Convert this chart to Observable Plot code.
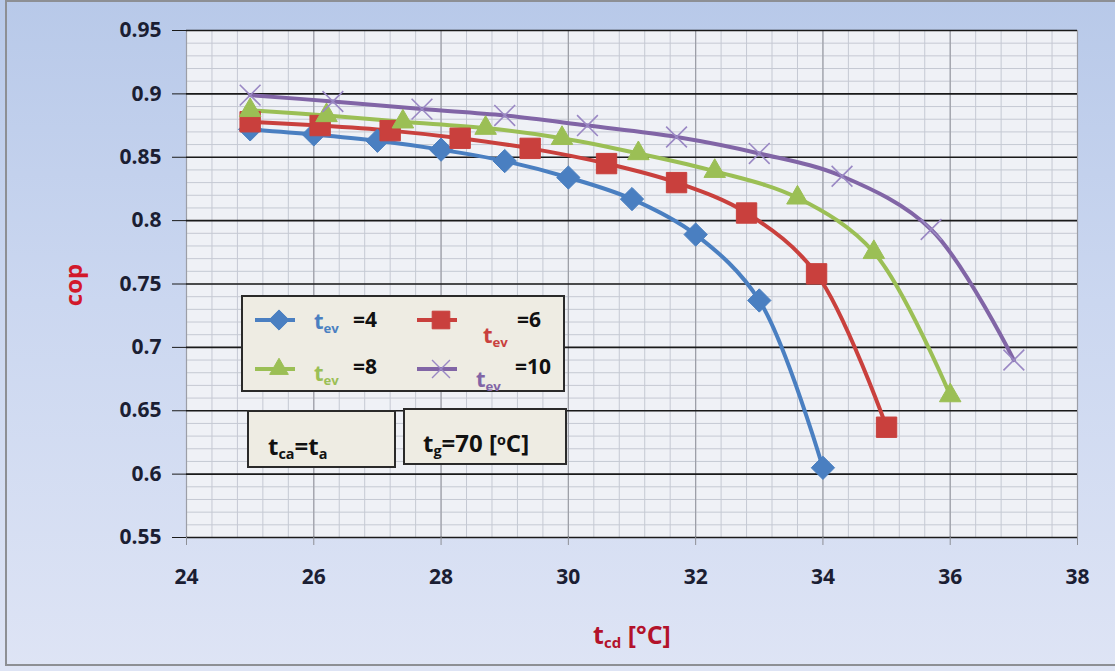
<!DOCTYPE html>
<html>
<head>
<meta charset="utf-8">
<script src="https://cdn.jsdelivr.net/npm/d3@7"></script>
<script src="https://cdn.jsdelivr.net/npm/@observablehq/plot@0.6"></script>
<style>
  html, body { margin: 0; padding: 0; background: #ffffff; }
  #chart {
    position: relative; width: 1115px; height: 671px; overflow: hidden;
    background: linear-gradient(180deg, #b8c9e9 0%, #cbd7f0 45%, #dee4f5 100%);
    font-family: "Open Sans", "DejaVu Sans", sans-serif;
  }
  #chart svg { position: absolute; left: 0; top: 0; }
  .frame-border {
    position: absolute; left: 5px; top: 0; width: 1112px; height: 666px;
    border: 2px solid #8d8f94; box-sizing: border-box; pointer-events: none;
  }
  .box {
    position: absolute; background: #eeece3; border: 2px solid #2a2a2a;
    box-sizing: border-box;
  }
  .lbl { position: absolute; font-weight: 700; white-space: nowrap; line-height: 1; }
  .lbl sub { font-size: 0.6em; vertical-align: -0.3em; }
</style>
</head>
<body>
<div id="chart"></div>
<script>
// Condenser temperature t_cd [°C] and coefficient of performance for each evaporator temperature
const tcd4 = [25, 26, 27, 28, 29, 30, 31, 32, 33, 34];
const cop4 = [0.872, 0.868, 0.863, 0.856, 0.847, 0.834, 0.817, 0.789, 0.737, 0.605];

const tcd6 = [25, 26.1, 27.2, 28.3, 29.4, 30.6, 31.7, 32.8, 33.9, 35];
const cop6 = [0.878, 0.875, 0.871, 0.865, 0.857, 0.845, 0.830, 0.806, 0.758, 0.637];

const tcd8 = [25, 26.2, 27.4, 28.7, 29.9, 31.1, 32.3, 33.6, 34.8, 36];
const cop8 = [0.887, 0.883, 0.878, 0.873, 0.865, 0.853, 0.839, 0.818, 0.775, 0.662];

const tcd10 = [25, 26.3, 27.7, 29, 30.3, 31.7, 33, 34.3, 35.7, 37];
const cop10 = [0.899, 0.894, 0.888, 0.883, 0.875, 0.866, 0.853, 0.835, 0.793, 0.690];

const tevValues = [4, 6, 8, 10];

// Axis ticks
const xTicks = [24, 26, 28, 30, 32, 34, 36, 38];
const yTicks = [0.55, 0.6, 0.65, 0.7, 0.75, 0.8, 0.85, 0.9, 0.95];
const yTickLabels = ["0.55", "0.6", "0.65", "0.7", "0.75", "0.8", "0.85", "0.9", "0.95"];

// Series styling
const seriesStyle = [
  {tev: 4,  color: "#4a7fc1", symbol: "diamond2", r: 10.5, fill: true},
  {tev: 6,  color: "#c9403d", symbol: "square",   r: 11.5, fill: true},
  {tev: 8,  color: "#9bbf55", symbol: "triangle", r: 8, fill: true},
  {tev: 10, color: "#8165a6", symbol: "times",    r: 9.5, fill: false}
];

const seriesData = [
  [tcd4, cop4], [tcd6, cop6], [tcd8, cop8], [tcd10, cop10]
].map(([xs, ys], i) => xs.map((x, j) => ({tev: tevValues[i], tcd: x, cop: ys[j]})));

// Minor gridlines: 0.4 on x, 0.01 on y
const minorX = d3.range(0, 36).map(i => 24 + i * 0.4).filter(v => v < 38);
const minorY = d3.range(0, 41).map(i => +(0.55 + i * 0.01).toFixed(2));

const marks = [
  Plot.frame({fill: "#eff1f6", stroke: null}),
  Plot.ruleX(minorX, {stroke: "#c5c9d3", strokeWidth: 1}),
  Plot.ruleY(minorY, {stroke: "#c5c9d3", strokeWidth: 1}),
  Plot.ruleX(xTicks, {stroke: "#9c9ea6", strokeWidth: 1.2}),
  Plot.ruleY(yTicks, {stroke: "#1a1a1a", strokeWidth: 1.6}),
  Plot.axisY(yTicks, {
    anchor: "left", label: null, tickSize: 14, tickPadding: 11,
    tickFormat: d => yTickLabels[yTicks.indexOf(d)],
    stroke: "#1a1a1a", fill: "#1b1e33", fontSize: 21, fontWeight: 700
  }),
  Plot.axisX(xTicks, {
    anchor: "bottom", label: null, tickSize: 8, tickPadding: 24,
    tickFormat: d => String(d),
    stroke: "#8d8f96", fill: "#1b1e33", fontSize: 21, fontWeight: 700
  })
];

seriesStyle.forEach((s, i) => {
  marks.push(Plot.line(seriesData[i], {
    x: "tcd", y: "cop", stroke: s.color, strokeWidth: 4, curve: "catmull-rom"
  }));
});
seriesStyle.forEach((s, i) => {
  marks.push(Plot.dot(seriesData[i], s.fill
    ? {x: "tcd", y: "cop", symbol: () => s.symbol, r: s.r, fill: s.color, stroke: s.color, strokeWidth: 1}
    : {x: "tcd", y: "cop", symbol: () => s.symbol, r: s.r, fill: "none", stroke: "#9a88c4", strokeWidth: 1.6}
  ));
});

const chart = Plot.plot({
  width: 1115,
  height: 671,
  marginLeft: 186,
  marginRight: 38,
  marginTop: 30,
  marginBottom: 134,
  x: {domain: [24, 38]},
  y: {domain: [0.55, 0.95]},
  symbol: {type: "identity"},
  style: {background: "transparent", fontFamily: "'Open Sans', sans-serif", overflow: "visible"},
  marks
});

const root = document.getElementById("chart");
root.appendChild(chart);

// Overlay layer: border, axis titles, legend, annotation boxes
const add = (html) => { root.insertAdjacentHTML("beforeend", html); return root.lastElementChild; };
add(`<div class="frame-border"></div>`);

add(`<div class="lbl" style="left:73px;top:285px;transform:translate(-50%,-50%) rotate(-90deg);color:#d2182b;font-size:24px;">cop</div>`);
add(`<div class="lbl" style="left:632px;top:636px;transform:translate(-50%,-50%);color:#b3122b;font-size:25px;">t<sub>cd</sub> [°C]</div>`);

// Legend
const legend = add(`<div class="box" style="left:241px;top:295px;width:324px;height:97px;"></div>`);
const legendPos = [
  {lx: 12, ly: 23, tx: 71, ty: 12, ex: 110, ey: 12},
  {lx: 174, ly: 23, tx: 240, ty: 26, ex: 274, ey: 12},
  {lx: 12, ly: 72, tx: 71, ty: 64, ex: 110, ey: 59},
  {lx: 174, ly: 72, tx: 233, ty: 70, ex: 272, ey: 59}
];
const symbolTypes = {diamond2: d3.symbolDiamond2, square: d3.symbolSquare, triangle: d3.symbolTriangle, times: d3.symbolTimes};
seriesStyle.forEach((s, i) => {
  const p = legendPos[i];
  const w = 46;
  const svg = d3.create("svg").attr("width", w).attr("height", 26)
    .style("position", "absolute").style("left", p.lx + "px").style("top", (p.ly - 13) + "px")
    .style("overflow", "visible");
  svg.append("line").attr("x1", 0).attr("x2", w - 6).attr("y1", 13).attr("y2", 13)
    .attr("stroke", s.color).attr("stroke-width", 4);
  const size = Math.PI * s.r * s.r * 0.75;
  svg.append("path").attr("transform", `translate(${(w - 6) * 0.6},13)`)
    .attr("d", d3.symbol(symbolTypes[s.symbol], size)())
    .attr("fill", s.fill ? s.color : "none").attr("stroke", s.fill ? s.color : "#9a88c4")
    .attr("stroke-width", s.fill ? 1 : 1.4);
  legend.appendChild(svg.node());
  legend.insertAdjacentHTML("beforeend",
    `<div class="lbl" style="left:${p.tx}px;top:${p.ty}px;color:${s.color};font-size:22px;">t<sub>ev</sub></div>`);
  legend.insertAdjacentHTML("beforeend",
    `<div class="lbl" style="left:${p.ex}px;top:${p.ey}px;color:#111;font-size:21px;">=${s.tev}</div>`);
});

// Operating-condition notes
add(`<div class="box" style="left:247px;top:410px;width:149px;height:58px;"></div>`);
add(`<div class="lbl" style="left:268px;top:434px;color:#111;font-size:24px;">t<sub>ca</sub>=t<sub>a</sub></div>`);
add(`<div class="box" style="left:403px;top:408px;width:164px;height:57px;"></div>`);
add(`<div class="lbl" style="left:423px;top:431px;color:#111;font-size:24px;">t<sub>g</sub>=70 [<sup style="font-size:0.6em;vertical-align:0.5em">o</sup>C]</div>`);
</script>
</body>
</html>
